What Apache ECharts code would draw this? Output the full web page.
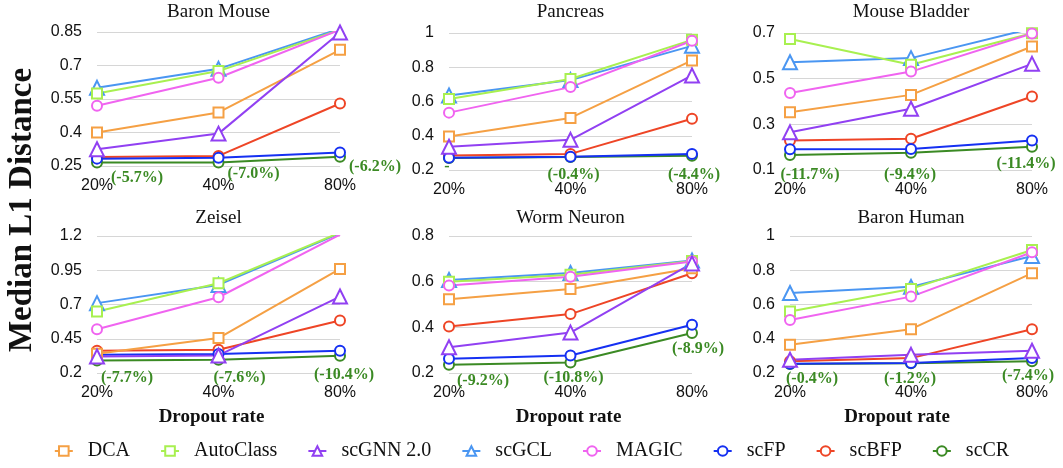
<!DOCTYPE html>
<html><head><meta charset="utf-8">
<script src="https://cdn.jsdelivr.net/npm/echarts@6/dist/echarts.min.js"></script>
<style>html,body{margin:0;padding:0;background:#fff}#c{width:1063px;height:468px}</style>
</head><body><div id="c"></div><script>
// ---------- data ----------
const categories = ['20%', '40%', '80%'];
const methods = ['DCA', 'AutoClass', 'scGNN 2.0', 'scGCL', 'MAGIC', 'scFP', 'scBFP', 'scCR'];
const datasets = ['Baron Mouse', 'Pancreas', 'Mouse Bladder', 'Zeisel', 'Worm Neuron', 'Baron Human'];

// values per method, in the order of `methods`
const baronMouseValues = [
  [0.40, 0.49, 0.77], [0.575, 0.675, 0.86], [0.325, 0.395, 0.848], [0.60, 0.685, 0.865],
  [0.52, 0.645, 0.86], [0.283, 0.287, 0.311], [0.29, 0.295, 0.53], [0.266, 0.266, 0.291]
];
const pancreasValues = [
  [0.395, 0.504, 0.84], [0.614, 0.731, 0.96], [0.336, 0.376, 0.752], [0.635, 0.725, 0.925],
  [0.535, 0.684, 0.955], [0.272, 0.278, 0.294], [0.284, 0.294, 0.499], [0.27, 0.276, 0.283]
];
const mouseBladderValues = [
  [0.353, 0.429, 0.641], [0.674, 0.561, 0.699], [0.265, 0.368, 0.565], [0.572, 0.59, 0.72],
  [0.437, 0.531, 0.698], [0.191, 0.192, 0.229], [0.229, 0.237, 0.422], [0.166, 0.176, 0.202]
];
const zeiselValues = [
  [0.34, 0.455, 0.96], [0.649, 0.855, 1.225], [0.32, 0.328, 0.758], [0.71, 0.843, 1.22],
  [0.52, 0.753, 1.21], [0.333, 0.338, 0.362], [0.362, 0.37, 0.583], [0.292, 0.297, 0.326]
];
const wormNeuronValues = [
  [0.523, 0.568, 0.659], [0.60, 0.63, 0.69], [0.313, 0.377, 0.68], [0.607, 0.638, 0.693],
  [0.583, 0.622, 0.688], [0.262, 0.277, 0.411], [0.404, 0.458, 0.637], [0.236, 0.246, 0.375]
];
const baronHumanValues = [
  [0.365, 0.456, 0.783], [0.559, 0.691, 0.918], [0.277, 0.306, 0.33], [0.667, 0.703, 0.883],
  [0.51, 0.646, 0.905], [0.254, 0.258, 0.287], [0.268, 0.287, 0.456], [0.252, 0.257, 0.268]
];

// y tick labels
const baronMouseTicks = [0.25, 0.4, 0.55, 0.7, 0.85];
const pancreasTicks = [0.2, 0.4, 0.6, 0.8, 1];
const mouseBladderTicks = [0.1, 0.3, 0.5, 0.7];
const zeiselTicks = [0.2, 0.45, 0.7, 0.95, 1.2];
const wormNeuronTicks = [0.2, 0.4, 0.6, 0.8];
const baronHumanTicks = [0.2, 0.4, 0.6, 0.8, 1];

// annotations (scCR improvement)
const baronMouseNotes = ['(-5.7%)', '(-7.0%)', '(-6.2%)'];
const pancreasNotes = ['-', '(-0.4%)', '(-4.4%)'];
const mouseBladderNotes = ['(-11.7%)', '(-9.4%)', '(-11.4%)'];
const zeiselNotes = ['(-7.7%)', '(-7.6%)', '(-10.4%)'];
const wormNeuronNotes = ['(-9.2%)', '(-10.8%)', '(-8.9%)'];
const baronHumanNotes = ['(-0.4%)', '(-1.2%)', '(-7.4%)'];

// ---------- layout / style ----------
const SERIF = '"Liberation Serif", "Times New Roman", serif';
const SANS = '"Liberation Sans", Arial, sans-serif';
const colors = {
  'DCA': '#F5A044', 'AutoClass': '#A8F050', 'scGNN 2.0': '#9140F2', 'scGCL': '#4A96F2',
  'MAGIC': '#F064F0', 'scFP': '#1530F2', 'scBFP': '#EE4526', 'scCR': '#3B8A24'
};
const symbols = {
  'DCA': 'emptyRect', 'AutoClass': 'emptyRect', 'scGNN 2.0': 'emptyTriangle', 'scGCL': 'emptyTriangle',
  'MAGIC': 'emptyCircle', 'scFP': 'emptyCircle', 'scBFP': 'emptyCircle', 'scCR': 'emptyCircle'
};
const symbolSizes = { emptyRect: 10, emptyTriangle: 14, emptyCircle: 10 };
const drawOrder = ['scCR', 'scBFP', 'scFP', 'DCA', 'scGCL', 'AutoClass', 'MAGIC', 'scGNN 2.0'];

const grids = [
  { left: 97, top: 32, width: 243, height: 134 },
  { left: 449, top: 33, width: 243, height: 137 },
  { left: 790, top: 33, width: 242, height: 137 },
  { left: 97, top: 236, width: 243, height: 137 },
  { left: 449, top: 236, width: 243, height: 137 },
  { left: 790, top: 236, width: 242, height: 137 }
];
const noteOffsets = [
  [[40, 15], [35, 11], [35, 10]],
  [[-2, 9], [3, 18], [2, 19]],
  [[20, 20], [-1, 22], [-6, 17]],
  [[30, 17], [21, 18], [4, 19]],
  [[34, 16], [3, 15], [6, 16]],
  [[22, 15], [-1, 16], [-4, 15]]
];
const namePadding = [[0, 14, 0, 0], [0, 4, 0, 0], [0, 28, 0, 0]];

const panelValues = [baronMouseValues, pancreasValues, mouseBladderValues, zeiselValues, wormNeuronValues, baronHumanValues];
const panelTicks = [baronMouseTicks, pancreasTicks, mouseBladderTicks, zeiselTicks, wormNeuronTicks, baronHumanTicks];
const panelNotes = [baronMouseNotes, pancreasNotes, mouseBladderNotes, zeiselNotes, wormNeuronNotes, baronHumanNotes];

const title = [], xAxis = [], yAxis = [], series = [];
datasets.forEach((ds, i) => {
  const g = grids[i];
  const row = i < 3 ? 0 : 1;
  title.push({
    text: ds, left: g.left + g.width / 2, textAlign: 'center', top: row === 0 ? 3 : 209, padding: 0,
    textStyle: { fontFamily: SERIF, fontSize: 19, fontWeight: 'normal', color: '#111' }
  });
  xAxis.push({
    type: 'category', gridIndex: i, data: categories, boundaryGap: false,
    axisLine: { show: false }, axisTick: { show: false },
    axisLabel: { margin: 12, fontFamily: SANS, fontSize: 16, color: '#111' },
    name: row === 1 ? 'Dropout rate' : '', nameLocation: 'middle', nameGap: 35,
    nameTextStyle: { fontFamily: SERIF, fontSize: 19, fontWeight: 'bold', color: '#111', padding: namePadding[i % 3] }
  });
  const t = panelTicks[i];
  yAxis.push({
    type: 'value', gridIndex: i, min: t[0], max: t[t.length - 1],
    interval: Math.round((t[1] - t[0]) * 1000) / 1000,
    axisLine: { show: false }, axisTick: { show: false },
    axisLabel: { margin: 15, fontFamily: SANS, fontSize: 16, color: '#111' },
    splitLine: { lineStyle: { color: '#d6d6d6', width: 1 } }
  });
  drawOrder.forEach(m => {
    const mi = methods.indexOf(m);
    const vals = panelValues[i][mi];
    const sym = symbols[m];
    let data = vals;
    if (m === 'scCR') {
      data = vals.map((v, k) => ({
        value: v,
        label: {
          show: true, position: 'inside', formatter: panelNotes[i][k], offset: noteOffsets[i][k],
          fontFamily: SERIF, fontSize: 16, fontWeight: 'bold', color: '#3B8A24'
        }
      }));
    }
    series.push({
      name: m, type: 'line', xAxisIndex: i, yAxisIndex: i, data: data,
      symbol: sym, symbolSize: symbolSizes[sym],
      lineStyle: { color: colors[m], width: 2 },
      itemStyle: { color: colors[m], borderWidth: sym === 'emptyTriangle' ? 2.6 : 2 },
      emphasis: { disabled: true }, animation: false
    });
  });
});

const chart = echarts.init(document.getElementById('c'), null, { renderer: 'canvas' });
chart.setOption({
  backgroundColor: '#fff',
  animation: false,
  title: title,
  grid: grids,
  xAxis: xAxis,
  yAxis: yAxis,
  series: series,
  legend: {
    data: methods, left: 'center', top: 441, padding: 0, itemGap: 30, itemWidth: 18, itemHeight: 12,
    textStyle: { fontFamily: SERIF, fontSize: 20, color: '#111', padding: [0, 0, 0, 10] }
  },
  graphic: [{
    type: 'text', x: 22, y: 210, rotation: Math.PI / 2,
    style: { text: 'Median L1 Distance', font: 'bold 33px ' + SERIF, fill: '#111', align: 'center', verticalAlign: 'middle' }
  }]
});
</script></body></html>
